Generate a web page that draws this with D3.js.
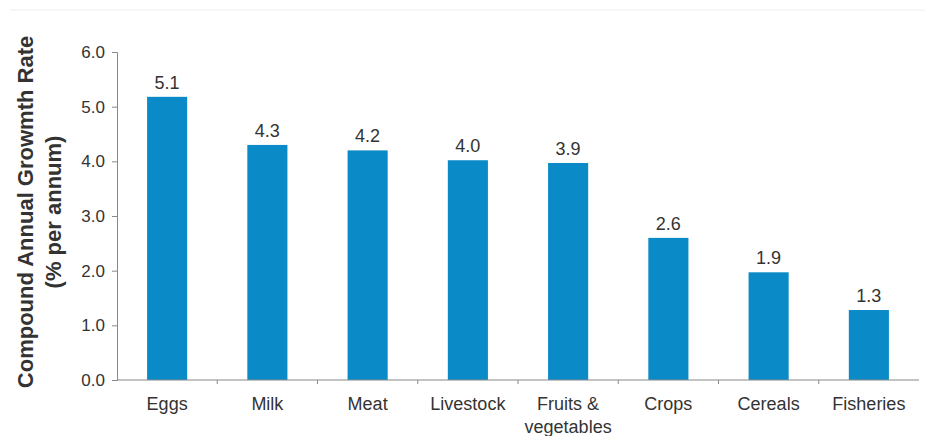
<!DOCTYPE html>
<html>
<head>
<meta charset="utf-8">
<script src="https://cdn.jsdelivr.net/npm/d3@7"></script>
<style>
  body { margin: 0; background: #fff; }
  text { font-family: "Liberation Sans", Arial, sans-serif; fill: #333; }
</style>
</head>
<body>
<svg id="chart" width="925" height="436"></svg>
<script>
// data
const categories = ["Eggs", "Milk", "Meat", "Livestock", "Fruits & vegetables", "Crops", "Cereals", "Fisheries"];
const values = [5.18, 4.3, 4.2, 4.02, 3.97, 2.6, 1.97, 1.28];
const valueLabels = ["5.1", "4.3", "4.2", "4.0", "3.9", "2.6", "1.9", "1.3"];
const yTicks = [0, 1, 2, 3, 4, 5, 6];

const svg = d3.select("#chart"),
      margin = { top: 52, right: 6, bottom: 56, left: 117 },
      width = +svg.attr("width") - margin.left - margin.right,
      height = +svg.attr("height") - margin.top - margin.bottom;

// faint rule at the top
svg.append("line")
  .attr("x1", 10).attr("x2", 925)
  .attr("y1", 10).attr("y2", 10)
  .attr("stroke", "#eee");

const g = svg.append("g").attr("transform", `translate(${margin.left},${margin.top})`);

const x = d3.scaleBand()
            .domain(categories)
            .range([0, width])
            .paddingInner(0.6)
            .paddingOuter(0.3);

const y = d3.scaleLinear()
            .domain([0, 6])
            .range([height, 0]);

// Bars
g.selectAll(".bar")
  .data(categories)
  .enter()
  .append("rect")
  .attr("class", "bar")
  .attr("x", d => x(d))
  .attr("y", (d, i) => y(values[i]))
  .attr("width", x.bandwidth())
  .attr("height", (d, i) => height - y(values[i]))
  .attr("fill", "#0a8bc7");

// value labels
g.selectAll(".val")
  .data(categories)
  .enter()
  .append("text")
  .attr("class", "val")
  .attr("x", d => x(d) + x.bandwidth() / 2)
  .attr("y", (d, i) => y(values[i]) - 8)
  .attr("text-anchor", "middle")
  .style("font-size", "18px")
  .text((d, i) => valueLabels[i]);

// Y Axis
const yAxis = g.append("g")
  .call(d3.axisLeft(y).tickValues(yTicks).tickFormat(d3.format(".1f")).tickSize(5).tickPadding(7));
yAxis.selectAll("text").style("font-size", "17px").attr("fill", "#333");
yAxis.selectAll("line, path").attr("stroke", "#888");

// X Axis: ticks on the category boundaries
const xAxis = g.append("g").attr("transform", `translate(0,${height})`);
xAxis.append("line")
  .attr("x1", 0).attr("x2", width)
  .attr("stroke", "#888");
xAxis.selectAll(".tk")
  .data(categories.slice(1))
  .enter()
  .append("line")
  .attr("x1", (d, i) => (i + 1) * width / categories.length)
  .attr("x2", (d, i) => (i + 1) * width / categories.length)
  .attr("y2", 4)
  .attr("stroke", "#888");

const catLabels = xAxis.selectAll(".cat")
  .data(categories)
  .enter()
  .append("text")
  .attr("class", "cat")
  .attr("x", d => x(d) + x.bandwidth() / 2)
  .attr("y", 30)
  .attr("text-anchor", "middle")
  .style("font-size", "18px");

catLabels.each(function(d) {
  const parts = d === "Fruits & vegetables" ? ["Fruits &", "vegetables"] : [d];
  d3.select(this).selectAll("tspan")
    .data(parts)
    .enter()
    .append("tspan")
    .attr("x", x(d) + x.bandwidth() / 2)
    .attr("dy", (p, i) => i ? 23 : 0)
    .text(p => p);
});

// Y title
const title = svg.append("text")
  .attr("transform", `translate(0,${margin.top + height / 2 - 4}) rotate(-90)`)
  .attr("text-anchor", "middle")
  .style("font-size", "22px")
  .style("font-weight", "bold")
  .attr("fill", "#3a3a3a");
title.append("tspan").attr("x", 0).attr("y", 33).text("Compound Annual Growmth Rate");
title.append("tspan").attr("x", 0).attr("y", 61).text("(% per annum)");
</script>
</body>
</html>
